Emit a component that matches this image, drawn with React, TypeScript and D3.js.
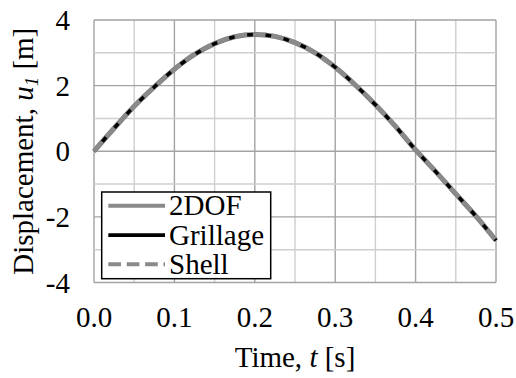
import React from "react";
import * as d3 from "d3";

const timeValues = [0, 0.025, 0.05, 0.075, 0.1, 0.125, 0.15, 0.175, 0.2, 0.225, 0.25, 0.275, 0.3, 0.325, 0.35, 0.375, 0.4, 0.425, 0.45, 0.475, 0.5];
const dof2Values = [0, 0.70, 1.37, 1.96, 2.50, 2.95, 3.28, 3.49, 3.56, 3.50, 3.31, 3.00, 2.56, 2.02, 1.42, 0.76, 0.04, -0.62, -1.30, -1.98, -2.72];
const grillageValues = [0, 0.70, 1.37, 1.96, 2.50, 2.95, 3.28, 3.49, 3.56, 3.50, 3.31, 3.00, 2.56, 2.02, 1.42, 0.76, 0.04, -0.62, -1.30, -1.98, -2.72];
const shellValues = [0, 0.70, 1.37, 1.96, 2.50, 2.95, 3.28, 3.49, 3.56, 3.50, 3.31, 3.00, 2.56, 2.02, 1.42, 0.76, 0.04, -0.62, -1.30, -1.98, -2.72];
const xTickLabels = ["0.0", "0.1", "0.2", "0.3", "0.4", "0.5"];
const yTickLabels = ["4", "2", "0", "-2", "-4"];
const legendLabels = ["2DOF", "Grillage", "Shell"];

const W = 516;
const H = 378;
const FONT = "'Liberation Serif', 'Times New Roman', Times, serif";
const textStyle: React.CSSProperties = { fontFamily: FONT, fontSize: "29px" };

export default function App() {
  const left = 94, right = 496, top = 20, bottom = 282.5;
  const x = d3.scaleLinear().domain([0, 0.5]).range([left, right]);
  const y = d3.scaleLinear().domain([-4, 4]).range([bottom, top]);

  const line = d3
    .line<[number, number]>()
    .x((d) => x(d[0]))
    .y((d) => y(d[1]))
    .curve(d3.curveMonotoneX);

  const mk = (vals: number[]) => timeValues.map((t, i) => [t, vals[i]] as [number, number]);

  const xMinor = d3.range(0, 0.5001, 0.05);
  const yMinor = d3.range(-4, 4.001, 1);

  const series = [
    { label: legendLabels[0], d: line(mk(dof2Values)), stroke: "#8a8a8a", width: 5, dash: undefined as string | undefined },
    { label: legendLabels[1], d: line(mk(grillageValues)), stroke: "#000000", width: 3.5, dash: undefined },
    { label: legendLabels[2], d: line(mk(shellValues)), stroke: "#8a8a8a", width: 4.5, dash: "12.7 5.7" },
  ];

  const legend = { x: 101.7, y: 192, w: 169, h: 86.7 };
  const legendRowY = [205.7, 235.2, 264.3];

  return (
    <svg width={W} height={H} style={{ position: "absolute", left: 0, top: 0, background: "#fff" }}>
      <rect x={0} y={0} width={W} height={H} fill="#fff" />
      {/* grid */}
      {xMinor.map((v, i) => (
        <line
          key={"gx" + i}
          x1={x(v)}
          x2={x(v)}
          y1={top}
          y2={bottom}
          stroke={i % 2 === 0 ? "#a3a3a3" : "#cfcfcf"}
          strokeWidth={1.4}
        />
      ))}
      {yMinor.map((v, i) => (
        <line
          key={"gy" + i}
          x1={left}
          x2={right}
          y1={y(v)}
          y2={y(v)}
          stroke={Math.round(v) % 2 === 0 ? "#a3a3a3" : "#cfcfcf"}
          strokeWidth={1.4}
        />
      ))}
      {/* series */}
      {series.map((s, i) => (
        <path key={"s" + i} d={s.d || ""} fill="none" stroke={s.stroke} strokeWidth={s.width} strokeDasharray={s.dash} />
      ))}
      {/* tick labels */}
      {yTickLabels.map((t, i) => (
        <text key={"yt" + i} x={70} y={y(+t) + 10} textAnchor="end" style={textStyle} fill="#000">
          {t}
        </text>
      ))}
      {xTickLabels.map((t, i) => (
        <text key={"xt" + i} x={x(+t)} y={326.5} textAnchor="middle" style={textStyle} fill="#000">
          {t}
        </text>
      ))}
      {/* axis titles */}
      <text x={(left + right) / 2} y={366.5} textAnchor="middle" style={textStyle} fill="#000">
        Time, <tspan fontStyle="italic">t</tspan> [s]
      </text>
      <text transform={`translate(33, ${(top + bottom) / 2}) rotate(-90)`} textAnchor="middle" style={textStyle} fill="#000">
        Displacement, <tspan fontStyle="italic">u</tspan>
        <tspan fontStyle="italic" style={{ fontSize: "19px" }} dy={5}>1</tspan>
        <tspan dy={-5}> [m]</tspan>
      </text>
      {/* legend */}
      <rect x={legend.x} y={legend.y} width={legend.w} height={legend.h} fill="#fff" stroke="#000" strokeWidth={1.5} />
      {series.map((s, i) => (
        <g key={"lg" + i}>
          <line
            x1={108.3}
            x2={165}
            y1={legendRowY[i]}
            y2={legendRowY[i]}
            stroke={s.stroke}
            strokeWidth={i === 1 ? 3.8 : 4}
            strokeDasharray={s.dash}
          />
          <text x={169} y={legendRowY[i] + 9.5} style={textStyle} fill="#000">
            {s.label}
          </text>
        </g>
      ))}
    </svg>
  );
}
